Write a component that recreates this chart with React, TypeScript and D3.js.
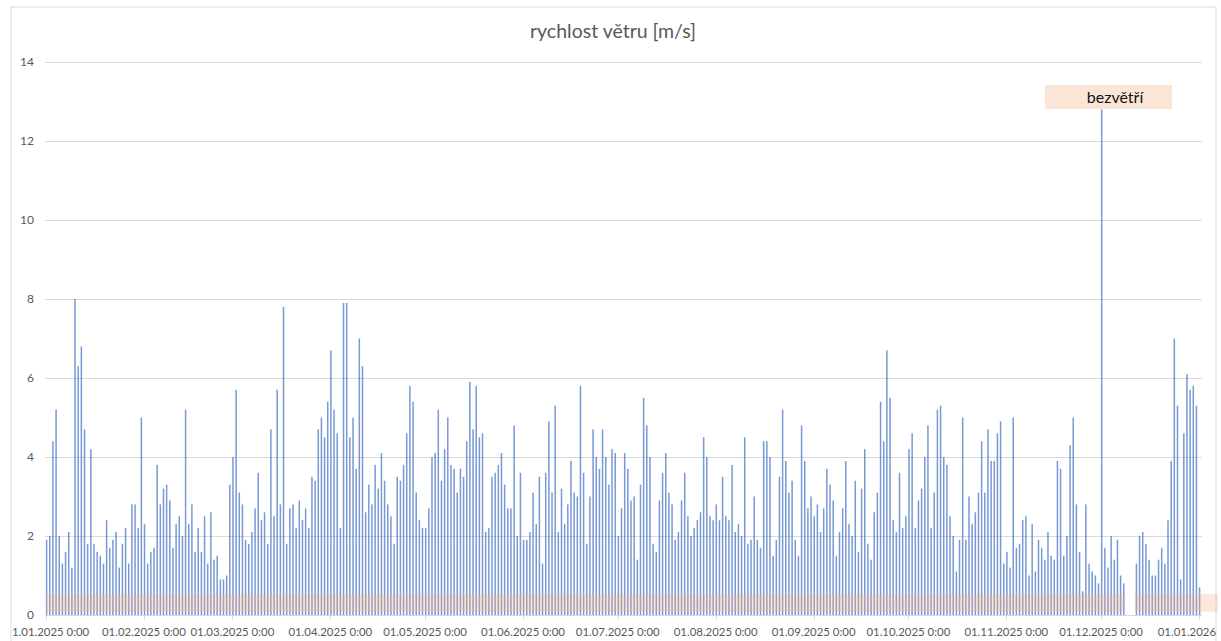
import React from "react";
import * as d3 from "d3";

// Daily mean wind speed [m/s], one array per month (null = missing day)
const jan2025 = [1.9, 2.0, 4.4, 5.2, 2.0, 1.3, 1.6, 2.1, 1.2, 8.0, 6.3, 6.8, 4.7, 1.8, 4.2, 1.8, 1.6, 1.5, 1.3, 2.4, 1.7, 1.9, 2.1, 1.2, 1.8, 2.2, 1.3, 2.8, 2.8, 2.2, 5.0];
const feb2025 = [2.3, 1.3, 1.6, 1.7, 3.8, 2.8, 3.2, 3.3, 2.9, 1.7, 2.3, 2.5, 2.0, 5.2, 2.3, 2.8, 1.6, 2.2, 1.6, 2.5, 1.3, 2.6, 1.4, 1.5, 0.9, 0.9, 1.0, 3.3];
const mar2025 = [4.0, 5.7, 3.1, 2.8, 1.9, 1.8, 2.1, 2.7, 3.6, 2.4, 2.6, 1.8, 4.7, 2.5, 5.7, 2.8, 7.8, 1.8, 2.7, 2.8, 2.2, 2.9, 2.4, 2.7, 2.2, 3.5, 3.4, 4.7, 5.0, 4.5, 5.4];
const apr2025 = [6.7, 5.2, 4.6, 2.2, 7.9, 7.9, 4.5, 5.0, 3.7, 7.0, 6.3, 2.6, 3.3, 2.8, 3.8, 3.2, 4.1, 3.4, 2.8, 2.5, 1.8, 3.5, 3.4, 3.8, 4.6, 5.8, 5.4, 3.1, 2.4, 2.2];
const may2025 = [2.2, 2.7, 4.0, 4.1, 5.2, 3.4, 4.2, 5.0, 3.8, 3.7, 3.1, 3.7, 3.5, 4.4, 5.9, 4.7, 5.8, 4.5, 4.6, 2.1, 2.2, 3.5, 3.6, 3.8, 4.1, 3.3, 2.7, 2.7, 4.8, 2.0, 3.6];
const jun2025 = [1.9, 1.9, 2.1, 3.1, 2.3, 3.5, 1.3, 3.6, 4.9, 3.1, 5.3, 2.1, 3.2, 2.3, 2.8, 3.9, 3.1, 3.0, 5.8, 3.6, 1.8, 3.0, 4.7, 4.0, 3.7, 4.7, 4.0, 3.3, 4.2, 4.1];
const jul2025 = [2.0, 2.7, 4.1, 3.7, 2.9, 3.0, 1.4, 3.3, 5.5, 4.8, 4.0, 1.8, 1.6, 2.9, 3.6, 4.1, 3.1, 2.8, 1.9, 2.1, 2.9, 3.6, 2.5, 2.0, 2.2, 2.4, 2.6, 4.5, 4.0, 2.5, 2.4];
const aug2025 = [2.8, 2.4, 3.5, 2.5, 2.4, 3.8, 2.1, 2.3, 2.0, 4.5, 1.8, 1.9, 3.0, 1.9, 1.7, 4.4, 4.4, 4.0, 1.5, 1.9, 3.5, 5.2, 3.9, 3.1, 3.4, 1.9, 1.5, 4.8, 3.9, 2.7, 3.0];
const sep2025 = [2.5, 2.8, 2.1, 2.7, 3.7, 3.3, 2.9, 1.5, 2.1, 2.7, 3.9, 2.3, 2.0, 3.4, 1.6, 3.2, 4.2, 1.8, 1.4, 2.6, 3.1, 5.4, 4.4, 6.7, 5.5, 2.4, 2.1, 3.6, 2.2, 2.5];
const oct2025 = [4.2, 4.6, 2.2, 2.9, 3.2, 4.0, 4.8, 2.2, 3.1, 5.2, 5.3, 4.0, 3.8, 2.5, 2.0, 1.1, 1.9, 5.0, 1.9, 3.0, 2.3, 2.6, 3.1, 4.4, 3.1, 4.7, 3.9, 3.9, 4.6, 4.9, 1.3];
const nov2025 = [1.6, 1.2, 5.0, 1.7, 1.8, 2.4, 2.5, 1.0, 2.3, 1.1, 1.9, 1.7, 1.4, 2.1, 1.5, 1.4, 3.9, 3.7, 1.5, 2.0, 4.3, 5.0, 2.8, 1.6, 0.6, 2.8, 1.3, 1.1, 1.0, 0.8];
const dec2025 = [12.8, 1.7, 1.2, 2.0, 1.4, 1.9, 1.0, 0.8, null, null, null, 1.3, 2.0, 2.1, 1.8, 1.4, 1.0, 1.0, 1.4, 1.7, 1.3, 2.4, 3.9, 7.0, 5.3, 0.9, 4.6, 6.1, 5.7, 5.8, 5.3];
const jan2026 = [0.7];

const months = [jan2025, feb2025, mar2025, apr2025, may2025, jun2025, jul2025, aug2025, sep2025, oct2025, nov2025, dec2025, jan2026];

const yTicks = [0, 2, 4, 6, 8, 10, 12, 14];
const xTickLabels = [
  "1.01.2025 0:00", "01.02.2025 0:00", "01.03.2025 0:00", "01.04.2025 0:00",
  "01.05.2025 0:00", "01.06.2025 0:00", "01.07.2025 0:00", "01.08.2025 0:00",
  "01.09.2025 0:00", "01.10.2025 0:00", "01.11.2025 0:00", "01.12.2025 0:00", "01.01.2026",
];
const calmBand = [0.08, 0.53]; // "bezvětří" band
const title = "rychlost větru [m/s]";
const calmLabel = "bezvětří";

type Pt = { date: Date; v: number | null };
const series: Pt[] = [];
months.forEach((arr, mi) => {
  arr.forEach((v, di) => {
    series.push({ date: new Date(2025, mi, di + 1), v });
  });
});

const W = 1221;
const H = 641;
const FONT = "Lato, 'Liberation Sans', Arial, sans-serif";

export default function App() {
  const start = new Date(2025, 0, 1);
  const end = new Date(2026, 0, 1);
  const x = d3.scaleTime().domain([start, end]).range([46, 1199]);
  const y = d3.scaleLinear().domain([0, 14]).range([615, 62]);
  const tickDates = d3.timeMonth.range(start, new Date(2026, 0, 2));

  // band segments split at missing data
  const segs: [number, number][] = [];
  let s: number | null = null;
  let last: number | null = null;
  series.forEach((p) => {
    const px = x(p.date);
    if (p.v != null) {
      if (s == null) s = px;
      last = px;
    } else if (s != null && last != null) {
      segs.push([s, last + 1.5]);
      s = null;
    }
  });
  if (s != null) segs.push([(s as number) - 1, 1218]);

  return (
    <svg width={W} height={H} style={{ position: "absolute", left: 0, top: 0, background: "#fff" }} fontFamily={FONT}>
      <rect x={11} y={7} width={1205} height={640} fill="#fff" stroke="#D9D9D9" strokeWidth={1} />
      <text x={613} y={38} textAnchor="middle" fontSize={19.5} fill="#595959">{title}</text>
      {yTicks.map((t) => (
        <g key={t}>
          <line x1={45} x2={1202} y1={Math.round(y(t)) + 0.5} y2={Math.round(y(t)) + 0.5} stroke="#D9D9D9" strokeWidth={1} />
          <text x={34} y={y(t)} dy="0.35em" textAnchor="end" fontSize={12} fill="#595959">{t}</text>
        </g>
      ))}
      {series.filter((p) => p.v != null).map((p, i) => {
        const cx = x(p.date) + 0.6;
        const top = y(p.v as number);
        return <rect key={i} x={cx - 0.75} y={top} width={1.5} height={y(0) - top} fill="#4472C4" fillOpacity={0.72} />;
      })}
      {segs.map(([a, b], i) => (
        <rect key={i} x={a} y={y(calmBand[1])} width={b - a} height={y(calmBand[0]) - y(calmBand[1])} fill="#F4B183" fillOpacity={0.3} />
      ))}
      {tickDates.map((d, i) => {
        const px = Math.round(x(d)) + 0.5;
        const last = i === tickDates.length - 1;
        const first = i === 0;
        return (
          <g key={i}>
            <line x1={px} x2={px} y1={615} y2={620} stroke="#D9D9D9" />
            <text
              x={first ? 12 : last ? 1216 : x(d)}
              y={636}
              textAnchor={first ? "start" : last ? "end" : "middle"}
              fontSize={11.4}
              fill="#595959"
            >
              {xTickLabels[i]}
            </text>
          </g>
        );
      })}
      <rect x={1045} y={85} width={127} height={24} fill="#FBE5D6" />
      <text x={1115} y={103} textAnchor="middle" fontSize={16} fill="#111">{calmLabel}</text>
    </svg>
  );
}
